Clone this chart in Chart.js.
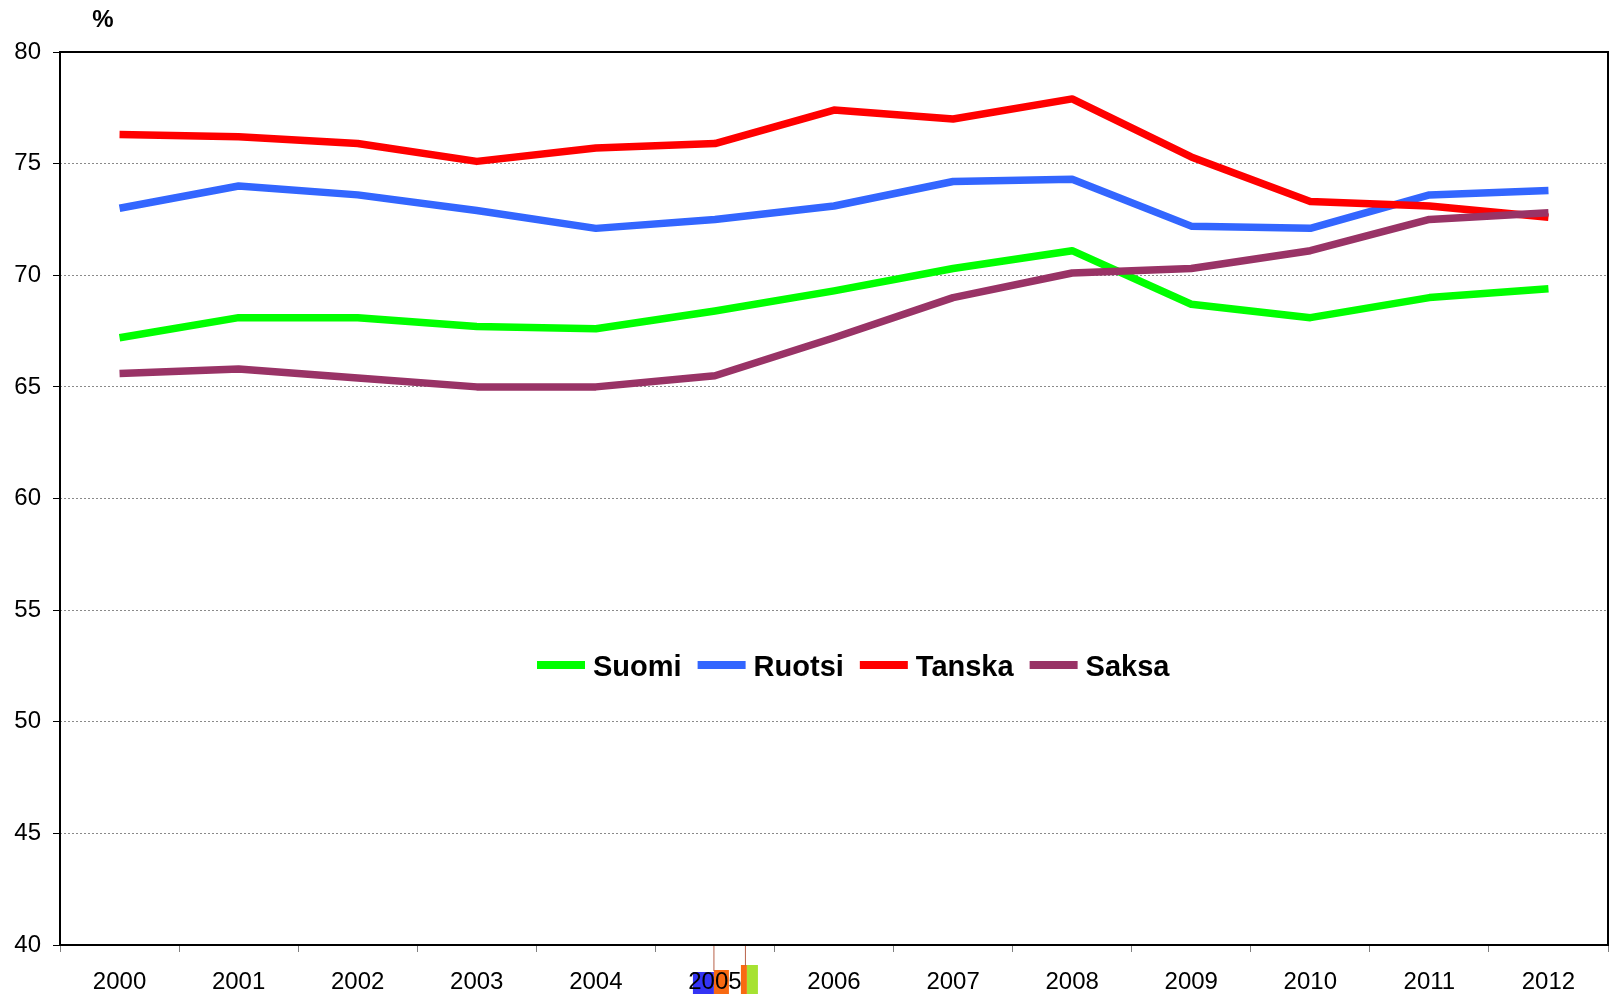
<!DOCTYPE html>
<html>
<head>
<meta charset="utf-8">
<script src="https://cdn.jsdelivr.net/npm/chart.js@4.4.0/dist/chart.umd.min.js"></script>
<style>
  html, body { margin: 0; padding: 0; background: #fff; }
  #chart { display: block; }
</style>
</head>
<body>
<canvas id="chart" width="1610" height="994"></canvas>
<script>
// Values (%)
const years = ['2000', '2001', '2002', '2003', '2004', '2005', '2006', '2007', '2008', '2009', '2010', '2011', '2012'];
const suomi  = [67.2, 68.1, 68.1, 67.7, 67.6, 68.4, 69.3, 70.3, 71.1, 68.7, 68.1, 69.0, 69.4];
const ruotsi = [73.0, 74.0, 73.6, 72.9, 72.1, 72.5, 73.1, 74.2, 74.3, 72.2, 72.1, 73.6, 73.8];
const tanska = [76.3, 76.2, 75.9, 75.1, 75.7, 75.9, 77.4, 77.0, 77.9, 75.3, 73.3, 73.1, 72.6];
const saksa  = [65.6, 65.8, 65.4, 65.0, 65.0, 65.5, 67.2, 69.0, 70.1, 70.3, 71.1, 72.5, 72.8];
const seriesNames = ['Suomi', 'Ruotsi', 'Tanska', 'Saksa'];
const yTicks = [40, 45, 50, 55, 60, 65, 70, 75, 80];

const FONT = "'Liberation Sans', Arial, sans-serif";

function lineSet(label, data, color, order) {
    return {
        label: label,
        data: data,
        borderColor: color,
        backgroundColor: color,
        borderWidth: 7.5,
        borderCapStyle: 'butt',
        borderJoinStyle: 'round',
        pointRadius: 0,
        tension: 0,
        fill: false,
        order: order
    };
}

// Percent sign above the y axis
const unitLabel = {
    id: 'unitLabel',
    afterDraw(chart) {
        const ctx = chart.ctx;
        ctx.save();
        ctx.font = 'bold 24px ' + FONT;
        ctx.fillStyle = '#000';
        ctx.textAlign = 'center';
        ctx.textBaseline = 'middle';
        ctx.fillText('%', 103, 20);
        ctx.restore();
    }
};

// Black frame round the plot area
const plotFrame = {
    id: 'plotFrame',
    afterDatasetsDraw(chart) {
        const a = chart.chartArea;
        const ctx = chart.ctx;
        ctx.save();
        ctx.strokeStyle = '#000';
        ctx.lineWidth = 2;
        ctx.strokeRect(a.left, a.top, a.right - a.left, a.bottom - a.top);
        ctx.restore();
    }
};

// The small coloured smudge behind the 2005 label in the source picture
const smudge = {
    id: 'smudge',
    beforeDraw(chart) {
        const x = chart.scales.x;
        const c = x.getPixelForValue(5);
        const b = chart.chartArea.bottom;
        const ctx = chart.ctx;
        ctx.save();
        ctx.fillStyle = '#3434f4';
        ctx.fillRect(c - 22, b + 27, 21, 22);
        ctx.fillStyle = '#f86a12';
        ctx.fillRect(c - 1, b + 25, 15, 24);
        ctx.fillRect(c + 26, b + 20, 6, 29);
        ctx.fillStyle = '#a6e232';
        ctx.fillRect(c + 32, b + 20, 11, 29);
        ctx.strokeStyle = '#b8624a';
        ctx.lineWidth = 1;
        ctx.beginPath();
        ctx.moveTo(c - 1, b);
        ctx.lineTo(c - 1, b + 26);
        ctx.moveTo(c + 30.5, b);
        ctx.lineTo(c + 30.5, b + 21);
        ctx.stroke();
        ctx.restore();
    }
};

// Legend drawn inside the plot
const innerLegend = {
    id: 'innerLegend',
    afterDraw(chart) {
        const ctx = chart.ctx;
        let x = 537;
        const y = 665;
        ctx.save();
        ctx.font = 'bold 29px ' + FONT;
        ctx.textBaseline = 'middle';
        ctx.fillStyle = '#000';
        chart.data.datasets.forEach(ds => {
            ctx.strokeStyle = ds.borderColor;
            ctx.lineWidth = 8;
            ctx.beginPath();
            ctx.moveTo(x, y);
            ctx.lineTo(x + 48, y);
            ctx.stroke();
            x += 56;
            ctx.fillText(ds.label, x, y + 3);
            x += ctx.measureText(ds.label).width + 16;
        });
        ctx.restore();
    }
};

new Chart(document.getElementById('chart'), {
    type: 'line',
    data: {
        labels: years,
        datasets: [
            lineSet(seriesNames[0], suomi, '#00ff00', 3),
            lineSet(seriesNames[1], ruotsi, '#3366ff', 2),
            lineSet(seriesNames[2], tanska, '#ff0000', 1),
            lineSet(seriesNames[3], saksa, '#993366', 0)
        ]
    },
    options: {
        responsive: false,
        animation: false,
        devicePixelRatio: 1,
        layout: { padding: { top: 52, right: 2, left: 0, bottom: 0 } },
        plugins: {
            legend: { display: false },
            tooltip: { enabled: false }
        },
        scales: {
            x: {
                type: 'category',
                offset: true,
                grid: {
                    offset: true,
                    drawOnChartArea: false,
                    drawTicks: true,
                    tickLength: 7,
                    color: '#808080'
                },
                border: { display: false },
                ticks: {
                    color: '#000',
                    font: { family: FONT, size: 24 },
                    padding: 16,
                    maxRotation: 0,
                    autoSkip: false
                },
                afterFit(scale) { scale.height = 49; }
            },
            y: {
                min: yTicks[0],
                max: yTicks[yTicks.length - 1],
                afterBuildTicks(scale) {
                    scale.ticks = yTicks.map(v => ({ value: v }));
                },
                grid: {
                    color: '#8a8a8a',
                    lineWidth: 1,
                    tickColor: '#000',
                    tickLength: 7
                },
                border: { display: false, dash: [2, 2] },
                ticks: {
                    color: '#000',
                    font: { family: FONT, size: 24 },
                    padding: 12
                },
                afterFit(scale) { scale.width = 60; }
            }
        }
    },
    plugins: [smudge, plotFrame, innerLegend, unitLabel]
});
</script>
</body>
</html>
